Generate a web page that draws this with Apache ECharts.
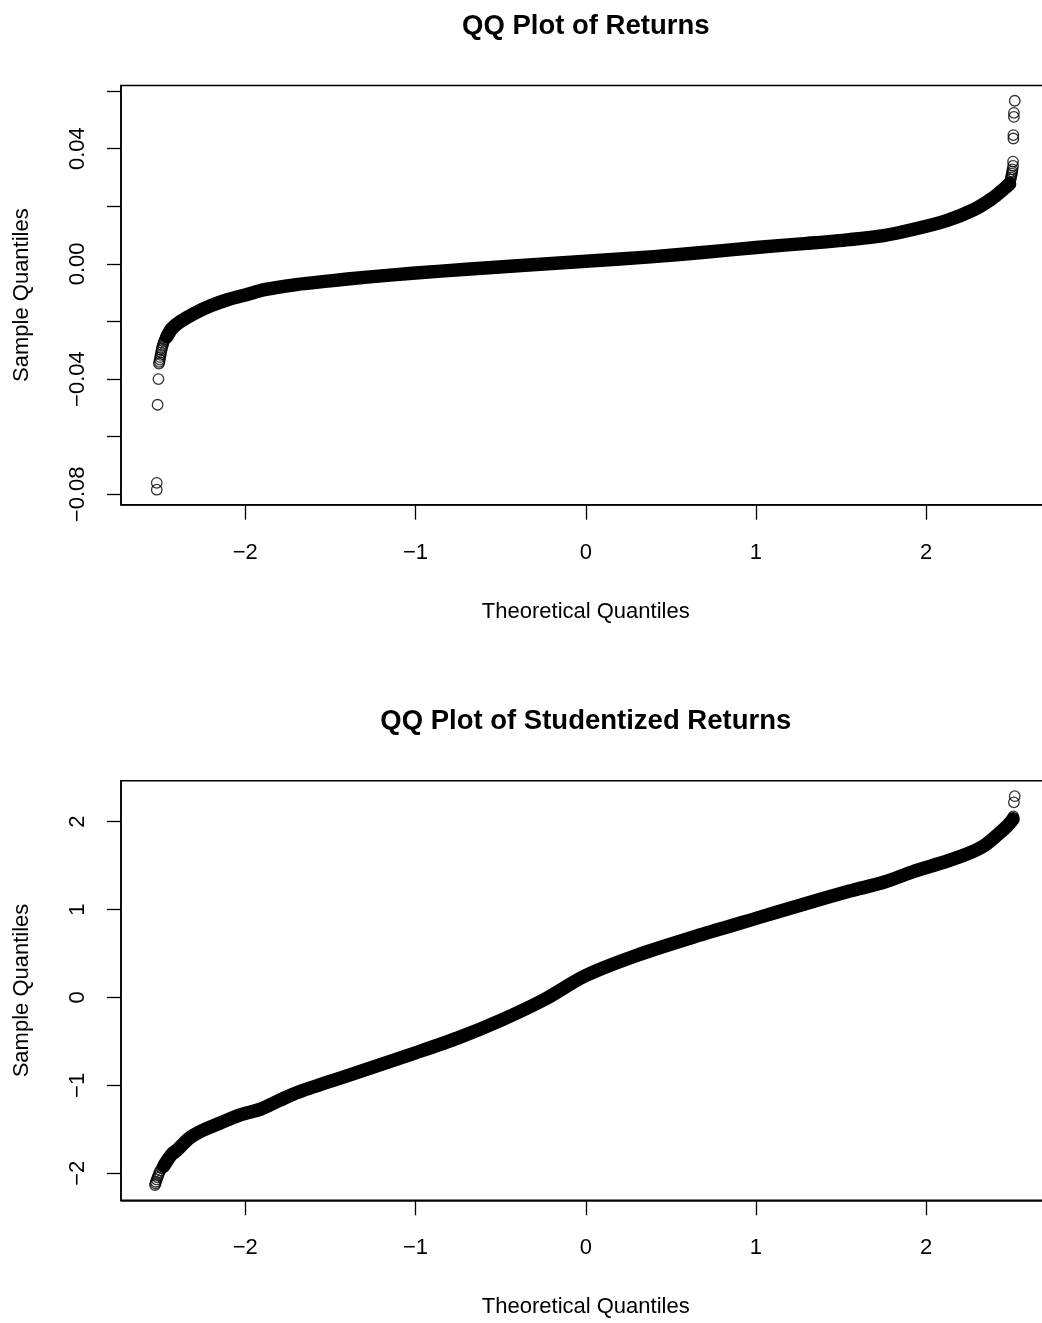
<!DOCTYPE html>
<html>
<head>
<meta charset="utf-8">
<title>QQ Plots</title>
<script src="https://cdn.jsdelivr.net/npm/echarts@6/dist/echarts.min.js"></script>
<style>
  html, body { margin: 0; padding: 0; background: #fff; }
  #chart { width: 1042px; height: 1323px; }
</style>
</head>
<body>
<div id="chart"></div>
<script>
// ---- Returns: dense body of the QQ cloud (theoretical, sample) ----
const returnsBody = [
  [-2.46, -0.0252], [-2.43, -0.0224], [-2.38, -0.0200], [-2.30, -0.0172],
  [-2.20, -0.0145], [-2.10, -0.0124], [-2.00, -0.0108], [-1.88, -0.0089],
  [-1.70, -0.0072], [-1.50, -0.0059], [-1.30, -0.0047], [-1.00, -0.0032],
  [-0.70, -0.0019], [-0.40, -0.0007], [0.00, 0.0009], [0.40, 0.0025],
  [0.70, 0.0040], [1.00, 0.0057], [1.30, 0.0071], [1.55, 0.0084],
  [1.75, 0.0098], [1.92, 0.0119], [2.12, 0.0150], [2.28, 0.0188],
  [2.39, 0.0228], [2.46, 0.0262], [2.49, 0.0278]
];
// ---- Returns: individual tail observations ----
const returnsTails = [
  [-2.52, -0.0784], [-2.52, -0.0760], [-2.515, -0.0489], [-2.51, -0.0400],
  [-2.507, -0.0346], [-2.505, -0.0340], [-2.502, -0.0332], [-2.50, -0.0324],
  [-2.497, -0.0316], [-2.495, -0.0308], [-2.492, -0.0300], [-2.49, -0.0293],
  [-2.486, -0.0285], [-2.482, -0.0278], [-2.478, -0.0270], [-2.473, -0.0263],
  [-2.468, -0.0257],
  [2.488, 0.0276], [2.492, 0.0284], [2.495, 0.0292], [2.498, 0.0299],
  [2.50, 0.0306], [2.503, 0.0313], [2.505, 0.0320], [2.507, 0.0328],
  [2.51, 0.0340], [2.51, 0.0355], [2.512, 0.0435], [2.512, 0.0447],
  [2.515, 0.0510], [2.515, 0.0524], [2.52, 0.0566]
];
// ---- Studentized returns: dense body ----
const studBody = [
  [-2.48, -1.92], [-2.45, -1.83], [-2.43, -1.78], [-2.40, -1.735],
  [-2.335, -1.61], [-2.27, -1.53], [-2.15, -1.43], [-2.03, -1.335],
  [-1.91, -1.27], [-1.80, -1.17], [-1.68, -1.07], [-1.385, -0.88],
  [-1.00, -0.63], [-0.75, -0.46], [-0.50, -0.26], [-0.25, -0.03],
  [0.00, 0.25], [0.30, 0.48], [0.67, 0.71], [1.00, 0.90],
  [1.26, 1.05], [1.55, 1.21], [1.75, 1.31], [1.92, 1.43],
  [2.12, 1.55], [2.25, 1.64], [2.35, 1.74], [2.43, 1.87],
  [2.48, 1.96], [2.51, 2.03]
];
// ---- Studentized returns: individual tail observations ----
const studTails = [
  [-2.53, -2.133], [-2.527, -2.115], [-2.525, -2.096], [-2.52, -2.07],
  [-2.515, -2.045], [-2.51, -2.02], [-2.505, -1.995], [-2.50, -1.97],
  [-2.49, -1.943],
  [2.51, 2.04], [2.512, 2.06], [2.515, 2.22], [2.52, 2.29]
];

// ---- axis ticks and labels ----
const xTicks = [-2, -1, 0, 1, 2];
const retTicks = [-0.08, -0.06, -0.04, -0.02, 0, 0.02, 0.04, 0.06];
const retLabels = [-0.08, -0.04, 0, 0.04];
const studTicks = [-2, -1, 0, 1, 2];

const FONT = '"Liberation Sans", Arial, Helvetica, sans-serif';
const minus = s => s.replace('-', '\u2212');

function xAxisCfg(gridIndex) {
  return {
    type: 'value', gridIndex: gridIndex,
    min: -2.73, max: 2.73,
    name: 'Theoretical Quantiles', nameLocation: 'middle', nameGap: 96,
    nameTextStyle: { color: '#000', fontSize: 22, fontFamily: FONT },
    axisLine: { show: true, onZero: false, lineStyle: { color: '#000', width: 1.5 } },
    axisTick: { show: true, inside: false, length: 15, customValues: xTicks,
                lineStyle: { color: '#000', width: 1.3 } },
    axisLabel: { customValues: xTicks, margin: 37, color: '#000', fontSize: 22,
                 fontFamily: FONT, formatter: v => minus(String(Math.round(v))) },
    splitLine: { show: false }
  };
}
function yAxisCfg(gridIndex, min, max, ticks, labels, fmt) {
  return {
    type: 'value', gridIndex: gridIndex, min: min, max: max,
    name: 'Sample Quantiles', nameLocation: 'middle', nameGap: 88, nameRotate: 90,
    nameTextStyle: { color: '#000', fontSize: 22, fontFamily: FONT },
    axisLine: { show: true, onZero: false, lineStyle: { color: '#000', width: 1.5 } },
    axisTick: { show: true, inside: false, length: 14, customValues: ticks,
                lineStyle: { color: '#000', width: 1.3 } },
    axisLabel: { customValues: labels, rotate: 90, margin: 32, color: '#000',
                 fontSize: 22, fontFamily: FONT, formatter: fmt },
    splitLine: { show: false }
  };
}
function bodySeries(idx, data) {
  return {
    type: 'line', xAxisIndex: idx, yAxisIndex: idx, data: data,
    smooth: 0.3, showSymbol: false, silent: true, z: 2,
    lineStyle: { color: '#000', width: 13.5, cap: 'round', join: 'round' }
  };
}
function tailSeries(idx, data) {
  return {
    type: 'scatter', xAxisIndex: idx, yAxisIndex: idx, data: data,
    symbol: 'circle', symbolSize: 10.5, silent: true, z: 3,
    itemStyle: { color: 'rgba(0,0,0,0)', borderColor: '#000', borderWidth: 1.3 }
  };
}

const chart = echarts.init(document.getElementById('chart'), null, { renderer: 'canvas' });
chart.setOption({
  backgroundColor: '#fff',
  animation: false,
  title: [
    { text: 'QQ Plot of Returns', left: 585.75, top: 12, textAlign: 'center', padding: 0,
      textStyle: { fontSize: 27.5, fontWeight: 'bold', color: '#000', fontFamily: FONT } },
    { text: 'QQ Plot of Studentized Returns', left: 585.75, top: 707, textAlign: 'center', padding: 0,
      textStyle: { fontSize: 27.5, fontWeight: 'bold', color: '#000', fontFamily: FONT } }
  ],
  grid: [
    { left: 121, top: 85.5, width: 929.5, height: 419.2, outerBoundsMode: 'none',
      show: true, borderColor: '#000', borderWidth: 1.5, backgroundColor: 'transparent' },
    { left: 121, top: 780.7, width: 929.5, height: 419.6, outerBoundsMode: 'none',
      show: true, borderColor: '#000', borderWidth: 1.5, backgroundColor: 'transparent' }
  ],
  xAxis: [xAxisCfg(0), xAxisCfg(1)],
  yAxis: [
    yAxisCfg(0, -0.0836, 0.0619, retTicks, retLabels,
             v => minus(Math.abs(v) < 1e-9 ? '0.00' : v.toFixed(2))),
    yAxisCfg(1, -2.307, 2.466, studTicks, studTicks,
             v => minus(String(Math.round(v))))
  ],
  series: [
    bodySeries(0, returnsBody), tailSeries(0, returnsTails),
    bodySeries(1, studBody), tailSeries(1, studTails)
  ]
});
</script>
</body>
</html>
